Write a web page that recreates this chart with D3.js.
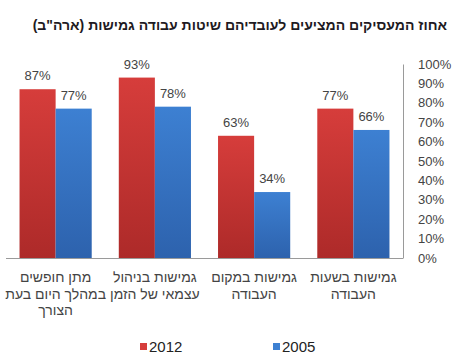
<!DOCTYPE html>
<html>
<head>
<meta charset="utf-8">
<script src="https://cdn.jsdelivr.net/npm/d3@7"></script>
<style>
  body { margin: 0; background: #fff; }
  text { font-family: "Liberation Sans", Arial, sans-serif; }
</style>
</head>
<body>
<svg id="chart" width="460" height="363"></svg>
<script>
// categories, left to right as drawn
const categories = [
  ["מתן חופשים", "במהלך היום בעת", "הצורך"],
  ["גמישות בניהול", "עצמאי של הזמן"],
  ["גמישות במקום", "העבודה"],
  ["גמישות בשעות", "העבודה"]
];
const series = ["2012", "2005"];
const values2012 = [87, 93, 63, 77];
const values2005 = [77, 78, 34, 66];
const yTicks = [0, 10, 20, 30, 40, 50, 60, 70, 80, 90, 100];

const colors = { "2012": ["#d63d3b", "#ad2a29"], "2005": ["#3d80d2", "#2d62ad"] };

const svg = d3.select("#chart");
const margin = { top: 64, right: 57, bottom: 105, left: 6 };
const width = 460 - margin.left - margin.right;
const height = 363 - margin.top - margin.bottom;

// gradients
const defs = svg.append("defs");
series.forEach((s) => {
  const gr = defs.append("linearGradient")
    .attr("id", "grad" + s)
    .attr("x1", 0).attr("y1", 0).attr("x2", 0).attr("y2", 1);
  gr.append("stop").attr("offset", "0%").attr("stop-color", colors[s][0]);
  gr.append("stop").attr("offset", "100%").attr("stop-color", colors[s][1]);
});

// title
svg.append("text")
  .attr("x", 447)
  .attr("y", 30)
  .attr("text-anchor", "end")
  .style("font-size", "14px")
  .style("font-weight", "bold")
  .style("fill", "#1e1a22")
  .text("אחוז המעסיקים המציעים לעובדיהם שיטות עבודה גמישות (ארה\"ב)");

const g = svg.append("g")
  .attr("transform", `translate(${margin.left},${margin.top})`);

const x0 = d3.scaleBand().domain(d3.range(categories.length)).range([0, width]).paddingInner(0).paddingOuter(0);
const x1 = d3.scaleBand().domain(series).range([0, x0.bandwidth()]).paddingOuter(0.375);
const y = d3.scaleLinear().domain([0, 100]).range([height, 0]);

const data = categories.map((c, i) => ({
  i: i,
  vals: [
    { s: "2012", v: values2012[i] },
    { s: "2005", v: values2005[i] }
  ]
}));

const groups = g.selectAll(".grp")
  .data(data)
  .enter()
  .append("g")
  .attr("transform", (d) => `translate(${x0(d.i)},0)`);

groups.selectAll("rect")
  .data((d) => d.vals)
  .enter()
  .append("rect")
  .attr("x", (d) => x1(d.s))
  .attr("width", x1.bandwidth())
  .attr("y", (d) => y(d.v))
  .attr("height", (d) => height - y(d.v))
  .attr("fill", (d) => `url(#grad${d.s})`);

groups.selectAll(".val")
  .data((d) => d.vals)
  .enter()
  .append("text")
  .attr("x", (d) => x1(d.s) + x1.bandwidth() / 2)
  .attr("y", (d) => y(d.v) - 9)
  .attr("text-anchor", "middle")
  .style("font-size", "13px")
  .style("fill", "#444")
  .text((d) => d.v + "%");

// baseline
g.append("line")
  .attr("x1", 0).attr("x2", width)
  .attr("y1", height + 0.5).attr("y2", height + 0.5)
  .attr("stroke", "#9a9a9a");

// right axis
const yAxis = g.append("g")
  .attr("transform", `translate(${width},0)`)
  .call(d3.axisRight(y).tickValues(yTicks).tickSize(0).tickPadding(15).tickFormat((d) => d + "%"));
yAxis.select(".domain").attr("stroke", "#9a9a9a");
yAxis.selectAll("text")
  .style("font-size", "13px")
  .style("fill", "#444")
  .style("font-family", "\"Liberation Sans\", Arial, sans-serif");

// category labels
const labels = g.selectAll(".cat")
  .data(categories)
  .enter()
  .append("text")
  .attr("text-anchor", "middle")
  .attr("direction", "rtl")
  .style("font-size", "14px")
  .style("fill", "#444")
  .attr("transform", (d, i) => `translate(${x0(i) + x0.bandwidth() / 2},${height + 24})`);
labels.selectAll("tspan")
  .data((d) => d)
  .enter()
  .append("tspan")
  .attr("x", 0)
  .attr("dy", (d, i) => (i === 0 ? 0 : 16.5))
  .text((d) => d);

// legend
const legend = svg.append("g").attr("transform", "translate(0,347)");
const legendX = [140, 273];
series.forEach((s, i) => {
  legend.append("rect")
    .attr("x", legendX[i])
    .attr("y", -4)
    .attr("width", 7)
    .attr("height", 7)
    .attr("fill", colors[s][0]);
  legend.append("text")
    .attr("x", legendX[i] + 9)
    .attr("y", 5)
    .style("font-size", "15px")
    .style("fill", "#222")
    .text(s);
});
</script>
</body>
</html>
